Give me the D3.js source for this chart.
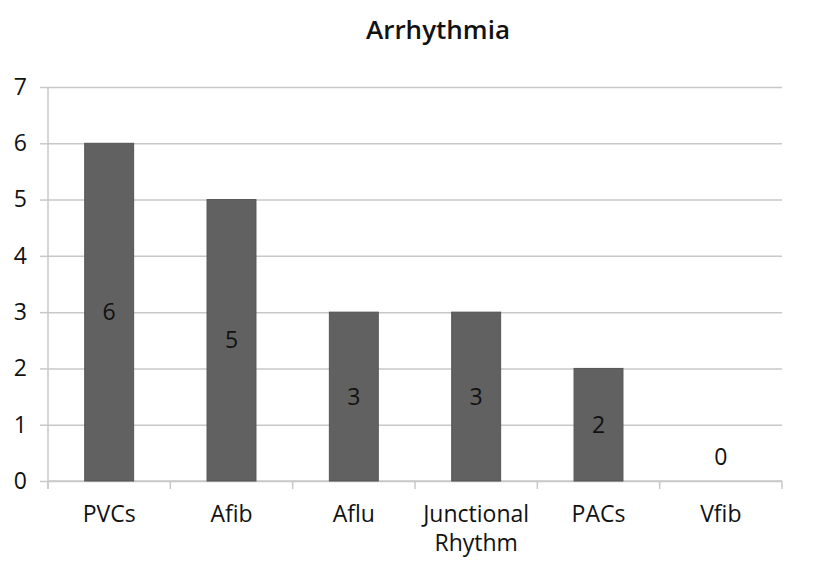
<!DOCTYPE html>
<html>
<head>
    <meta charset="utf-8">
    <title>Arrhythmia</title>
    <script src="https://d3js.org/d3.v7.min.js" charset="utf-8"></script>
    <style>
        html, body { margin: 0; padding: 0; background: #fff; }
        text { font-family: "Open Sans", "DejaVu Sans", sans-serif; fill: #111; }
        .axis path, .axis line { stroke: #c8c8c8; stroke-width: 1.5px; }
        .grid line { stroke: #c8c8c8; stroke-width: 1.5px; }
        .grid path { display: none; }
    </style>
</head>
<body>
    <div id="chart"></div>
    <script>
        // chart data
        const categories = ["PVCs", "Afib", "Aflu", "Junctional Rhythm", "PACs", "Vfib"];
        const counts = [6, 5, 3, 3, 2, 0];
        const yTicks = [0, 1, 2, 3, 4, 5, 6, 7];

        const width = 827, height = 583;
        const margin = { top: 87, right: 45, bottom: 102, left: 48 };

        const svg = d3.select("#chart").append("svg")
            .attr("width", width)
            .attr("height", height);

        const x = d3.scaleBand()
            .domain(categories)
            .range([margin.left, width - margin.right])
            .paddingInner(0.6)
            .paddingOuter(0.3);

        const y = d3.scaleLinear()
            .domain([0, 7])
            .range([height - margin.bottom, margin.top]);

        // horizontal gridlines
        svg.append("g")
            .attr("class", "grid")
            .attr("transform", "translate(" + margin.left + ",0)")
            .call(d3.axisLeft(y).tickValues(yTicks)
                .tickSize(-(width - margin.left - margin.right)).tickFormat(""));

        // y axis
        const yAxis = svg.append("g")
            .attr("class", "axis")
            .attr("transform", "translate(" + margin.left + ",0)")
            .call(d3.axisLeft(y).tickValues(yTicks).tickFormat(d3.format("d"))
                .tickSize(8).tickSizeOuter(0).tickPadding(13));
        yAxis.selectAll("text").style("font-size", "23px");
        yAxis.select(".domain")
            .attr("d", "M0," + (y(7)) + "V" + (y(0) + 8));

        // x axis: ticks at category boundaries
        const xg = svg.append("g")
            .attr("class", "axis")
            .attr("transform", "translate(0," + y(0) + ")");
        xg.append("line")
            .attr("x1", margin.left).attr("x2", width - margin.right)
            .attr("y1", 0).attr("y2", 0);
        const plotW = width - margin.left - margin.right;
        xg.selectAll(".bound")
            .data(d3.range(categories.length + 1))
            .enter().append("line")
            .attr("x1", i => margin.left + i * plotW / categories.length)
            .attr("x2", i => margin.left + i * plotW / categories.length)
            .attr("y1", 0).attr("y2", 8);

        // category labels
        svg.selectAll(".cat")
            .data(categories)
            .enter().append("text")
            .attr("class", "cat")
            .attr("text-anchor", "middle")
            .style("font-size", "23px")
            .attr("x", d => x(d) + x.bandwidth() / 2)
            .attr("y", y(0) + 41)
            .each(function (d) {
                const words = d.split(" ");
                const t = d3.select(this);
                words.forEach((w, i) => {
                    t.append("tspan")
                        .attr("x", x(d) + x.bandwidth() / 2)
                        .attr("dy", i === 0 ? 0 : 29)
                        .text(w);
                });
            });

        // bars
        svg.selectAll(".bar")
            .data(counts)
            .enter().append("rect")
            .attr("class", "bar")
            .attr("x", (d, i) => x(categories[i]))
            .attr("width", x.bandwidth())
            .attr("y", d => y(d))
            .attr("height", d => y(0) - y(d))
            .attr("fill", "#616161")
            .attr("stroke", "#555")
            .attr("stroke-width", 1);

        // value labels
        svg.selectAll(".val")
            .data(counts)
            .enter().append("text")
            .attr("class", "val")
            .attr("text-anchor", "middle")
            .style("font-size", "23px")
            .attr("x", (d, i) => x(categories[i]) + x.bandwidth() / 2)
            .attr("y", d => d > 0 ? (y(d) + y(0)) / 2 + 8 : y(0) - 16)
            .text(d => d);

        // title
        svg.append("text")
            .attr("x", 438)
            .attr("y", 39)
            .attr("text-anchor", "middle")
            .style("font-size", "26px")
            .style("font-weight", "600")
            .text("Arrhythmia");
    </script>
</body>
</html>
